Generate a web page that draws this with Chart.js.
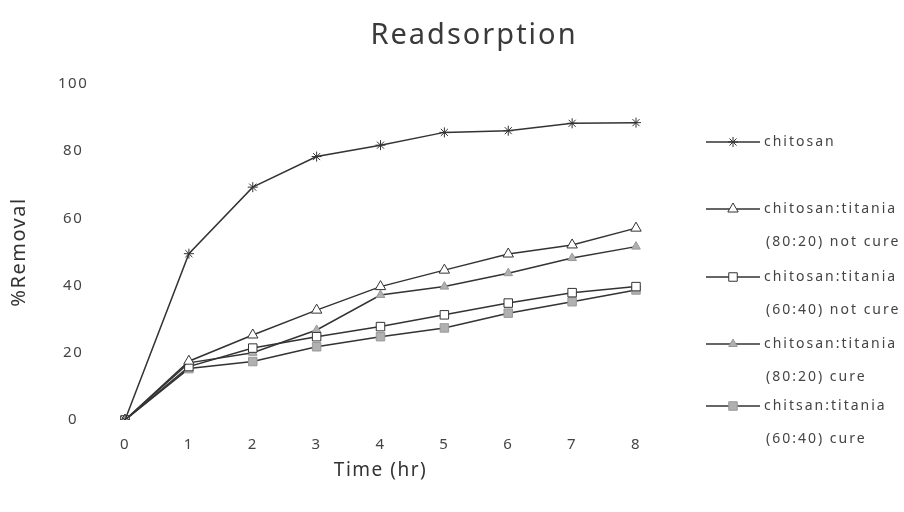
<!DOCTYPE html>
<html>
<head>
<meta charset="utf-8">
<script src="https://cdn.jsdelivr.net/npm/chart.js@4.4.1/dist/chart.umd.min.js"></script>
<style>
  body { margin:0; background:#fff; }
  #wrap { position:relative; width:904px; height:512px; }
  #title { position:absolute; left:0; width:948px; top:13px; text-align:center;
    font-family:"Noto Sans", sans-serif; font-size:29px; letter-spacing:2px; color:#3a3a3a; }
</style>
</head>
<body>
<div id="wrap">
  <canvas id="lineChart" width="904" height="512"></canvas>
  <div id="title">Readsorption</div>
</div>
<script>
// data
var hours = ['0', '1', '2', '3', '4', '5', '6', '7', '8'];
var chitosan      = [0, 49.5, 69.3, 78.4, 81.8, 85.6, 86.1, 88.3, 88.5];
var ct8020NotCure = [0, 17.5, 25.3, 32.7, 39.7, 44.6, 49.4, 52.1, 57.1];
var ct6040NotCure = [0, 15.9, 21.4, 24.8, 27.8, 31.3, 34.8, 37.9, 39.7];
var ct8020Cure    = [0, 17.0, 20.0, 26.8, 37.2, 39.7, 43.7, 48.2, 51.6];
var ct6040Cure    = [0, 15.3, 17.4, 21.8, 24.8, 27.4, 31.8, 35.2, 38.7];
var yTicks = [0, 20, 40, 60, 80, 100];
var legendNames = [
  ['chitosan'],
  ['chitosan:titania', '(80:20) not cure'],
  ['chitosan:titania', '(60:40) not cure'],
  ['chitosan:titania', '(80:20) cure'],
  ['chitsan:titania', '(60:40) cure']
];

var ink = '#333';
var fontFam = '"Noto Sans", sans-serif';

function series(label, values, style, fill, edge, r){
  return {
    label: label,
    data: values,
    borderColor: ink,
    borderWidth: 1.5,
    pointStyle: style,
    pointRadius: r,
    pointBackgroundColor: fill,
    pointBorderColor: edge,
    pointBorderWidth: 1,
    tension: 0
  };
}

var datasets = [
  series(legendNames[0].join(' '), chitosan, 'star', ink, ink, 5),
  series(legendNames[1].join(' '), ct8020NotCure, 'triangle', '#fff', ink, 6),
  series(legendNames[2].join(' '), ct6040NotCure, 'rect', '#fff', ink, 6),
  series(legendNames[3].join(' '), ct8020Cure, 'triangle', '#b0b0b0', '#999', 5),
  series(legendNames[4].join(' '), ct6040Cure, 'rect', '#b0b0b0', '#999', 6)
];

// a bit of letter spacing for all canvas text, like the scanned figure
var spacing = {
  id: 'spacing',
  beforeDraw: function(chart){ chart.ctx.letterSpacing = '1.5px'; }
};

// right hand legend, drawn on the canvas
var legendRows = [142, 209, 277, 344, 406];
var sideLegend = {
  id: 'sideLegend',
  afterDraw: function(chart){
    var ctx = chart.ctx;
    ctx.save();
    ctx.letterSpacing = '2px';
    ctx.font = '14px ' + fontFam;
    ctx.textBaseline = 'middle';
    chart.data.datasets.forEach(function(ds, i){
      var y = legendRows[i];
      ctx.strokeStyle = ink;
      ctx.lineWidth = 1.5;
      ctx.beginPath();
      ctx.moveTo(706, y);
      ctx.lineTo(760, y);
      ctx.stroke();
      ctx.fillStyle = ds.pointBackgroundColor;
      ctx.strokeStyle = ds.pointBorderColor;
      ctx.lineWidth = 1;
      Chart.helpers.drawPoint(ctx, {pointStyle: ds.pointStyle, radius: ds.pointRadius, borderWidth: 1}, 733, y);
      ctx.fillStyle = '#444';
      var lines = legendNames[i];
      ctx.fillText(lines[0], 764, y);
      if (lines[1]) ctx.fillText(lines[1], 766, y + 33);
    });
    ctx.restore();
  }
};

var ctx = document.getElementById('lineChart').getContext('2d');
var myLineChart = new Chart(ctx, {
  type: 'line',
  data: { labels: hours, datasets: datasets },
  plugins: [spacing, sideLegend],
  options: {
    responsive: false,
    animation: false,
    layout: { padding: { top: 84, right: 268, left: 0, bottom: 0 } },
    plugins: { legend: { display: false }, tooltip: { enabled: false } },
    scales: {
      x: {
        offset: false,
        grid: { display: false },
        border: { display: false },
        ticks: { color: '#444', font: { family: fontFam, size: 15 }, padding: 8 },
        title: { display: true, text: 'Time (hr)', color: '#333',
                 font: { family: fontFam, size: 19 }, padding: { top: 4, bottom: 30 } },
        afterFit: function(scale){ scale.height = 92; }
      },
      y: {
        min: 0, max: 100,
        afterBuildTicks: function(scale){ scale.ticks = yTicks.map(function(v){ return {value: v}; }); },
        grid: { display: false },
        border: { display: false },
        ticks: { color: '#444', font: { family: fontFam, size: 15 }, padding: 31, crossAlign: 'center' },
        title: { display: true, text: '%Removal', color: '#333',
                 font: { family: fontFam, size: 20 }, padding: { top: 7, bottom: 4 } },
        afterFit: function(scale){ scale.width = 125; }
      }
    }
  }
});
</script>
</body>
</html>
